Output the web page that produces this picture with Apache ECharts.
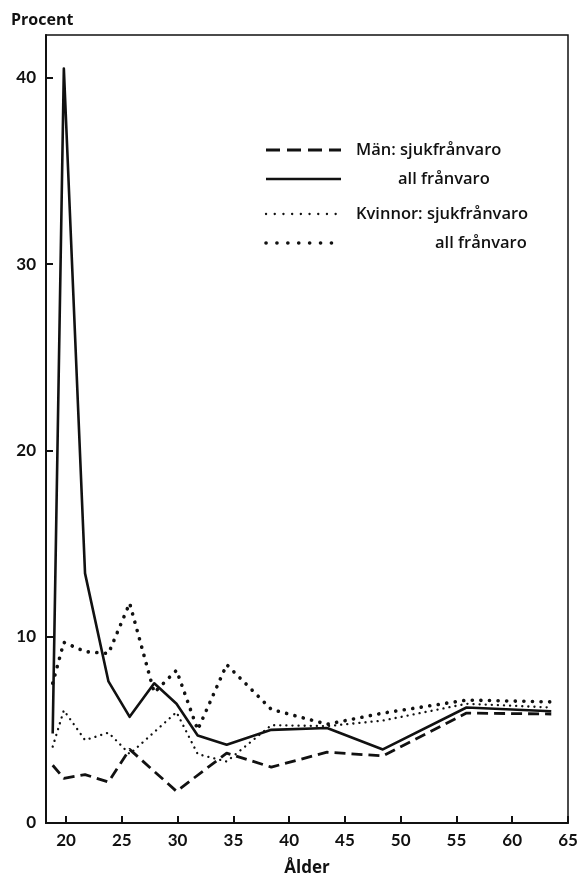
<!DOCTYPE html>
<html><head><meta charset="utf-8">
<script src="https://cdn.jsdelivr.net/npm/echarts@6/dist/echarts.min.js"></script>
<style>html,body{margin:0;padding:0;background:#fff}#c{width:579px;height:877px}</style>
</head><body><div id="c"></div>
<script>
var ages = [18.8, 19.8, 21.7, 23.8, 25.7, 27.9, 29.9, 31.8, 34.4, 38.4, 43.4, 48.4, 55.9, 63.5];
var menSick   = [3.1, 2.4, 2.6, 2.2, 3.95, null, 1.7, null, 3.75, 3.0, 3.8, 3.6, 5.9, 5.85];
var menAll    = [4.8, 40.5, 13.4, 7.6, 5.7, 7.5, 6.4, 4.7, 4.2, 5.0, 5.1, 3.95, 6.2, 6.0];
var womenSick = [4.1, 6.05, 4.45, 4.85, 3.7, null, 5.95, 3.7, 3.3, 5.25, 5.2, 5.5, 6.4, 6.2];
var womenAll  = [7.5, 9.7, 9.2, 9.1, 11.8, 7.0, 8.2, 5.0, 8.5, 6.1, 5.3, 5.9, 6.6, 6.5];
var xTicks = [20, 25, 30, 35, 40, 45, 50, 55, 60, 65];
var yTicks = [0, 10, 20, 30, 40];
var names = ['Män: sjukfrånvaro', 'all frånvaro', 'Kvinnor: sjukfrånvaro', 'all frånvaro'];

function pairs(vals){ var out=[]; for (var i=0;i<ages.length;i++){ if(vals[i]!==null) out.push([ages[i], vals[i]]); } return out; }

var FONT = '"Open Sans"';
var chart = echarts.init(document.getElementById('c'), null, {renderer:'canvas'});
var styles = [
  {type:[11,6], width:2.8, cap:'butt', lg:[14,7]},
  {type:'solid', width:2.6, cap:'butt', lg:null},
  {type:[0.1,6], width:2.3, cap:'round', lg:[0.1,8.6]},
  {type:[0.1,8.5], width:3.6, cap:'round', lg:[0.1,10.8]}
];
var data = [menSick, menAll, womenSick, womenAll];
var series = data.map(function(d,i){
  return {type:'line', data:pairs(d), symbol:'none', silent:true,
    lineStyle:{color:'#111', width:styles[i].width, type:styles[i].type, cap:styles[i].cap, join:'round'}};
});

// legend drawn as graphics
var graphics = [];
var lgY = [150, 179, 214, 243];
var lgX = [356, 398, 356, 435];
for (var i=0;i<4;i++){
  graphics.push({type:'line', shape:{x1:266, y1:lgY[i], x2:341, y2:lgY[i]},
    style:{stroke:'#111', lineWidth:styles[i].width, lineDash: styles[i].lg, lineCap:styles[i].cap}});
  graphics.push({type:'text', x:lgX[i], y:lgY[i], style:{text:names[i], font:'600 16.5px '+FONT, fill:'#111', verticalAlign:'middle'}});
}
graphics.push({type:'text', x:11, y:20, style:{text:'Procent', font:'bold 16px '+FONT, fill:'#111', verticalAlign:'middle'}});

chart.setOption({
  animation:false,
  grid:{left:46, right:11, top:35, bottom:54, show:true, borderColor:'#111', borderWidth:1.5, backgroundColor:'transparent', containLabel:false, outerBoundsMode:'none'},
  xAxis:{type:'value', min:18.2, max:65, name:'Ålder', nameLocation:'middle', nameGap:37,
    nameTextStyle:{fontFamily:'Open Sans', fontWeight:'bold', fontSize:17, color:'#111'},
    axisLine:{lineStyle:{color:'#111', width:2}},
    axisTick:{inside:true, length:7, lineStyle:{color:'#111', width:2}, customValues:xTicks},
    axisLabel:{customValues:xTicks, fontFamily:'Lato', fontWeight:'bold', fontSize:17, color:'#111', margin:9},
    splitLine:{show:false}},
  yAxis:{type:'value', min:0, max:42.3,
    axisLine:{show:true, lineStyle:{color:'#111', width:2}},
    axisTick:{show:true, inside:true, length:7, lineStyle:{color:'#111', width:2}, customValues:yTicks},
    axisLabel:{customValues:yTicks, fontFamily:'Lato', fontWeight:'bold', fontSize:17, color:'#111', margin:10},
    splitLine:{show:false}},
  graphic:graphics,
  series:series
});
</script></body></html>
